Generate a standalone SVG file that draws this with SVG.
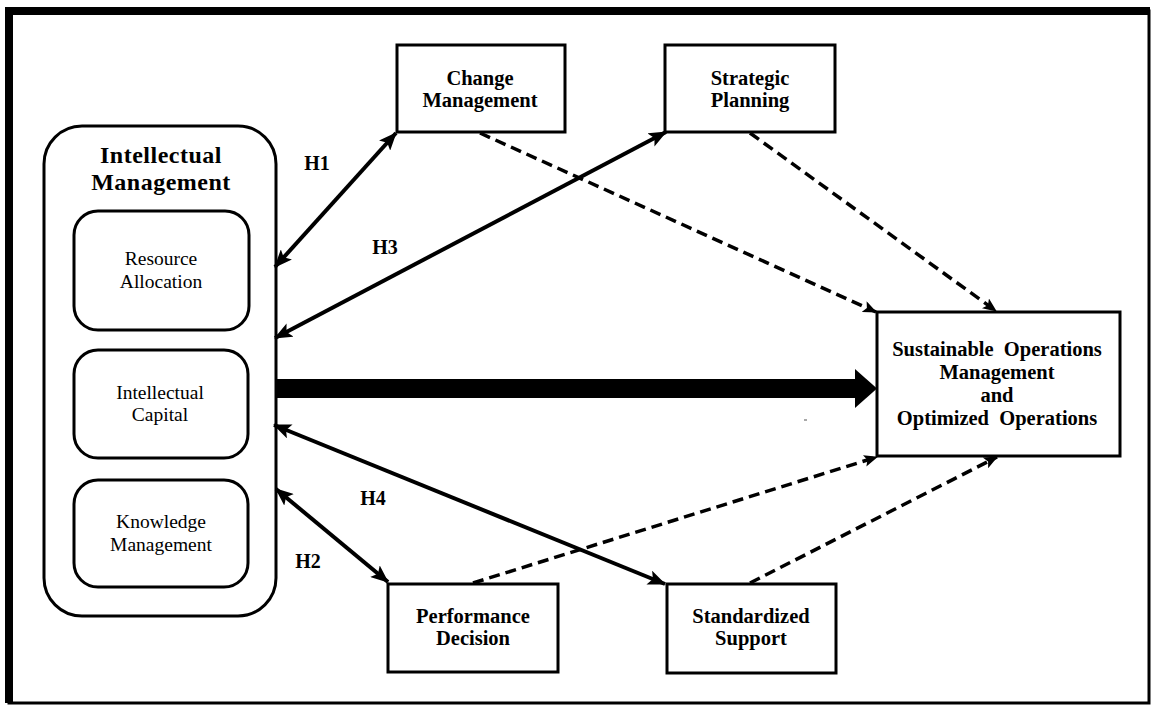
<svg xmlns="http://www.w3.org/2000/svg" width="1152" height="705" viewBox="0 0 1152 705">
<defs>
<style>
.box{fill:#fff;stroke:#000;stroke-width:3}
.rbox{fill:#fff;stroke:#000;stroke-width:3}
.tb{font-family:"Liberation Serif","Times New Roman",serif;font-weight:bold;fill:#000;text-anchor:middle}
.tr{font-family:"Liberation Serif","Times New Roman",serif;fill:#000;text-anchor:middle}
.solid{fill:none;stroke:#000;stroke-width:4}
.dash{fill:none;stroke:#000;stroke-width:3.5;stroke-dasharray:11 6}
</style>
<marker id="ah" viewBox="0 0 18 15" refX="17" refY="7.5" markerWidth="18" markerHeight="15" markerUnits="userSpaceOnUse" orient="auto-start-reverse">
<path d="M0,0 L18,7.5 L0,15 L4,7.5 z" fill="#000"/>
</marker>
<marker id="dh" viewBox="0 0 14 12" refX="13" refY="6" markerWidth="14" markerHeight="12" markerUnits="userSpaceOnUse" orient="auto">
<path d="M0,0 L14,6 L0,12 L3,6 z" fill="#000"/>
</marker>
</defs>
<rect width="1152" height="705" fill="#fff"/>
<g id="frame">
<rect x="9" y="11" width="1140" height="692" fill="none" stroke="#000" stroke-width="3"/>
<path d="M9,703 V11 H1150" fill="none" stroke="#000" stroke-width="8"/>
</g>
<g id="intellectual-management">
<rect class="rbox" x="44" y="126" width="232" height="490" rx="38"/>
<text class="tb" x="161" y="163" font-size="24" letter-spacing="0.5">Intellectual</text>
<text class="tb" x="161" y="190" font-size="24" letter-spacing="0.5">Management</text>
</g>
<g id="resource-allocation">
<rect class="rbox" x="74" y="211" width="175" height="119" rx="24"/>
<text class="tr" x="161" y="265" font-size="19.5">Resource</text>
<text class="tr" x="161" y="288" font-size="19.5">Allocation</text>
</g>
<g id="intellectual-capital">
<rect class="rbox" x="74" y="350" width="174" height="108" rx="24"/>
<text class="tr" x="160" y="399" font-size="19.5">Intellectual</text>
<text class="tr" x="160" y="421" font-size="19.5">Capital</text>
</g>
<g id="knowledge-management">
<rect class="rbox" x="74" y="480" width="174" height="107" rx="24"/>
<text class="tr" x="161" y="528" font-size="19.5">Knowledge</text>
<text class="tr" x="161" y="551" font-size="19.5">Management</text>
</g>
<g id="change-management">
<rect class="box" x="397" y="45" width="168" height="87"/>
<text class="tb" x="480" y="85" font-size="20.5">Change</text>
<text class="tb" x="480" y="107" font-size="20.5">Management</text>
</g>
<g id="strategic-planning">
<rect class="box" x="665" y="45" width="170" height="87"/>
<text class="tb" x="750" y="85" font-size="20.5">Strategic</text>
<text class="tb" x="750" y="107" font-size="20.5">Planning</text>
</g>
<g id="sustainable-operations">
<rect class="box" x="877" y="312" width="243" height="144"/>
<text class="tb" x="997" y="356" font-size="20.5" xml:space="preserve">Sustainable  Operations</text>
<text class="tb" x="997" y="379" font-size="20.5">Management</text>
<text class="tb" x="997" y="402" font-size="20.5">and</text>
<text class="tb" x="997" y="425" font-size="20.5" xml:space="preserve">Optimized  Operations</text>
</g>
<g id="performance-decision">
<rect class="box" x="388" y="584" width="170" height="88"/>
<text class="tb" x="473" y="623" font-size="20.5">Performance</text>
<text class="tb" x="473" y="645" font-size="20.5">Decision</text>
</g>
<g id="standardized-support">
<rect class="box" x="667" y="584" width="169" height="89"/>
<text class="tb" x="751" y="623" font-size="20.5">Standardized</text>
<text class="tb" x="751" y="645" font-size="20.5">Support</text>
</g>
<g id="connectors">
<path class="solid" d="M275,267 L396,133" marker-start="url(#ah)" marker-end="url(#ah)"/>
<path class="solid" d="M275,338 L666,132" marker-start="url(#ah)" marker-end="url(#ah)"/>
<path class="solid" d="M274,425 L665,584" marker-start="url(#ah)" marker-end="url(#ah)"/>
<path class="solid" d="M276,489 L388,582" marker-start="url(#ah)" marker-end="url(#ah)"/>
<path class="dash" d="M480,133 L876,312" marker-end="url(#dh)"/>
<path class="dash" d="M750,133 L996,311" marker-end="url(#dh)"/>
<path class="dash" d="M473,583 L877,457" marker-end="url(#dh)"/>
<path class="dash" d="M750,583 L997,457" marker-end="url(#dh)"/>
<rect x="276" y="379" width="582" height="19" fill="#000"/>
<path d="M855,369 L877,388.5 L855,408 z" fill="#000"/>
</g>
<g id="labels">
<text class="tb" x="317" y="170" font-size="20">H1</text>
<text class="tb" x="385" y="254" font-size="20">H3</text>
<text class="tb" x="373" y="505" font-size="20">H4</text>
<text class="tb" x="308" y="568" font-size="20">H2</text>
<rect x="804" y="419.5" width="3" height="1" fill="#555"/>
</g>
</svg>
